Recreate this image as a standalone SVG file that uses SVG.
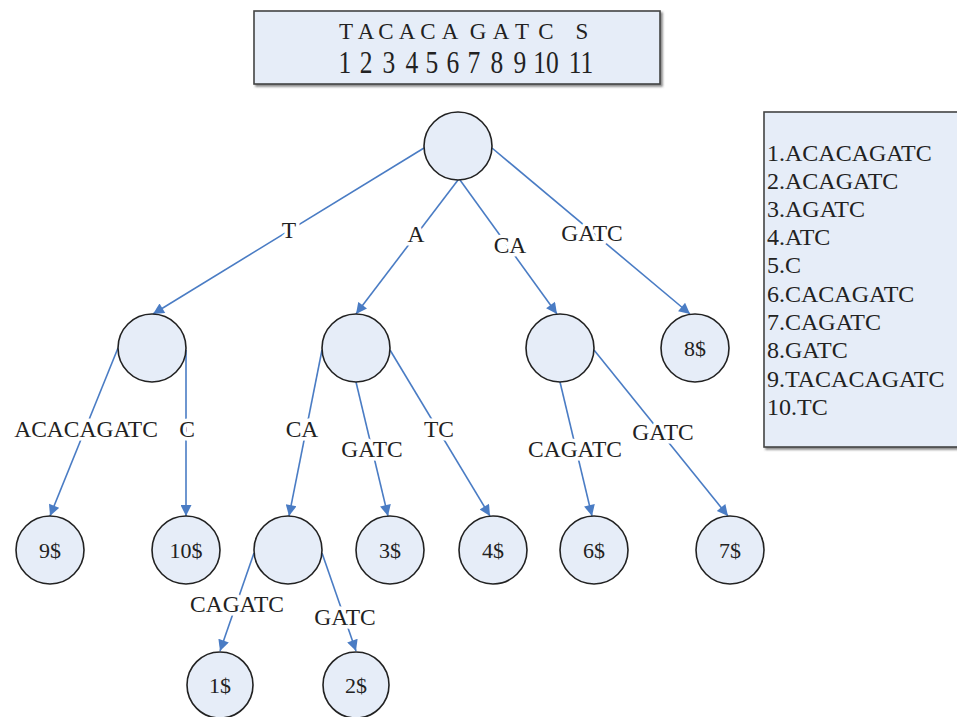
<svg xmlns="http://www.w3.org/2000/svg" width="957" height="717" viewBox="0 0 957 717">
<defs>
<marker id="arr" viewBox="0 0 10 10" refX="10" refY="5" markerWidth="13" markerHeight="11" markerUnits="userSpaceOnUse" orient="auto">
<path d="M0,0 L10,5 L0,10 z" fill="#4a7cc4"/>
</marker>
<filter id="sh" x="-5%" y="-5%" width="110%" height="115%">
<feDropShadow dx="2" dy="2" stdDeviation="0.8" flood-color="#555" flood-opacity="0.7"/>
</filter>
</defs>
<style>
.n circle{fill:#e6edf8;stroke:#222;stroke-width:1.6}
.t{font-family:"Liberation Serif","Times New Roman",serif;fill:#222}
.nl{font-size:22px;text-anchor:middle}
.el{font-size:23.5px;text-anchor:middle;stroke:#fff;stroke-width:7;paint-order:stroke;stroke-linejoin:round}
.e line{stroke:#4a7cc4;stroke-width:1.6;marker-end:url(#arr)}
.box{fill:#e6edf8;stroke:#444;stroke-width:1.6}
.bt{font-size:24px}
.s1{font-size:23px;text-anchor:middle}
.s2{font-size:25.5px;text-anchor:middle}
</style>
<rect width="957" height="717" fill="#fff"/>
<g id="string-box">
<rect class="box" x="254" y="11" width="406" height="73" filter="url(#sh)"/>
<g class="t s1">
<text x="346" y="39">T</text><text x="366" y="39">A</text><text x="386" y="39">C</text><text x="407" y="39">A</text><text x="428" y="39">C</text><text x="450" y="39">A</text><text x="478" y="39">G</text><text x="501" y="39">A</text><text x="522" y="39">T</text><text x="546" y="39">C</text><text x="582" y="39">S</text>
</g>
<g class="t s2" transform="translate(0,73) scale(1,1.22)">
<text x="345" y="0">1</text><text x="366" y="0">2</text><text x="389" y="0">3</text><text x="412" y="0">4</text><text x="432" y="0">5</text><text x="453" y="0">6</text><text x="474" y="0">7</text><text x="497" y="0">8</text><text x="520" y="0">9</text><text x="546" y="0">10</text><text x="581" y="0">11</text>
</g>
</g>
<g id="suffix-box">
<rect class="box" x="764" y="112" width="200" height="335" filter="url(#sh)"/>
<g class="t bt">
<text x="767" y="161">1.ACACAGATC</text>
<text x="767" y="189">2.ACAGATC</text>
<text x="767" y="217">3.AGATC</text>
<text x="767" y="245">4.ATC</text>
<text x="767" y="273">5.C</text>
<text x="767" y="302">6.CACAGATC</text>
<text x="767" y="330">7.CAGATC</text>
<text x="767" y="358">8.GATC</text>
<text x="767" y="387">9.TACACAGATC</text>
<text x="767" y="415">10.TC</text>
</g>
</g>
<g id="connectors" class="e">
<line x1="424" y1="148" x2="153" y2="314"/>
<line x1="458" y1="180" x2="356" y2="314"/>
<line x1="460" y1="180" x2="557" y2="314"/>
<line x1="492" y1="148" x2="690" y2="314"/>
<line x1="118" y1="348" x2="50" y2="516"/>
<line x1="186" y1="350" x2="186" y2="516"/>
<line x1="322" y1="350" x2="289" y2="516"/>
<line x1="356" y1="382" x2="388" y2="516"/>
<line x1="390" y1="350" x2="490" y2="516"/>
<line x1="560" y1="382" x2="592" y2="516"/>
<line x1="594" y1="350" x2="728" y2="516"/>
<line x1="254" y1="553" x2="220" y2="651"/>
<line x1="322" y1="553" x2="356" y2="651"/>
</g>
<g id="edge-labels" class="t el">
<text x="289" y="238">T</text>
<text x="416" y="242">A</text>
<text x="510" y="253">CA</text>
<text x="592" y="241">GATC</text>
<text x="86" y="437">ACACAGATC</text>
<text x="187" y="437">C</text>
<text x="302" y="437">CA</text>
<text x="372" y="457">GATC</text>
<text x="439" y="437">TC</text>
<text x="575" y="457">CAGATC</text>
<text x="663" y="440">GATC</text>
<text x="237" y="612">CAGATC</text>
<text x="345" y="625">GATC</text>
</g>
<g id="root" class="n"><circle cx="458" cy="146" r="34"/></g>
<g id="node-T" class="n"><circle cx="152" cy="348" r="34"/></g>
<g id="node-A" class="n"><circle cx="356" cy="348" r="34"/></g>
<g id="node-CA" class="n"><circle cx="560" cy="348" r="34"/></g>
<g id="leaf-8" class="n"><circle cx="695" cy="348" r="34"/><text class="t nl" x="695" y="356">8$</text></g>
<g id="leaf-9" class="n"><circle cx="50" cy="550" r="34"/><text class="t nl" x="50" y="558">9$</text></g>
<g id="leaf-10" class="n"><circle cx="186" cy="550" r="34"/><text class="t nl" x="186" y="558">10$</text></g>
<g id="node-ACA" class="n"><circle cx="288" cy="550" r="34"/></g>
<g id="leaf-3" class="n"><circle cx="390" cy="550" r="34"/><text class="t nl" x="390" y="558">3$</text></g>
<g id="leaf-4" class="n"><circle cx="493" cy="550" r="34"/><text class="t nl" x="493" y="558">4$</text></g>
<g id="leaf-6" class="n"><circle cx="594" cy="550" r="34"/><text class="t nl" x="594" y="558">6$</text></g>
<g id="leaf-7" class="n"><circle cx="730" cy="550" r="34"/><text class="t nl" x="730" y="558">7$</text></g>
<g id="leaf-1" class="n"><circle cx="220" cy="685" r="33"/><text class="t nl" x="220" y="693">1$</text></g>
<g id="leaf-2" class="n"><circle cx="356" cy="685" r="33"/><text class="t nl" x="356" y="693">2$</text></g>
</svg>
